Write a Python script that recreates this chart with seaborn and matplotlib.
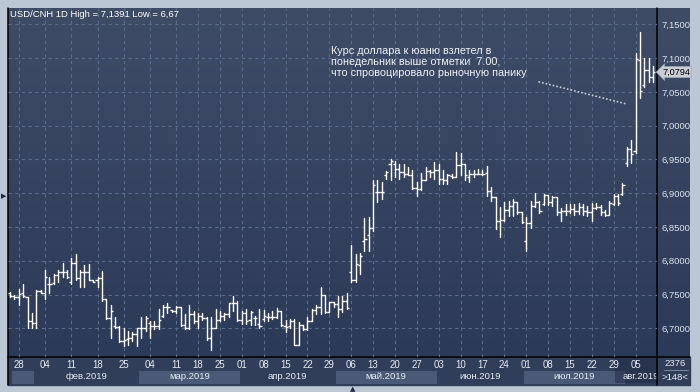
import numpy as np
import pandas as pd
import matplotlib
matplotlib.use("Agg")
import matplotlib.pyplot as plt
import seaborn as sns
from matplotlib.colors import LinearSegmentedColormap
from matplotlib.lines import Line2D
from matplotlib.patches import Rectangle

# USD/CNH daily bars (open / high / low / close)
opens = [6.7525, 6.748, 6.746, 6.753, 6.747, 6.711, 6.708, 6.755, 6.753, 6.766,
         6.767, 6.779, 6.784, 6.784, 6.768, 6.797, 6.774, 6.784, 6.784, 6.771,
         6.772, 6.774, 6.744, 6.715, 6.704, 6.702, 6.681, 6.684, 6.686, 6.691,
         6.700, 6.701, 6.708, 6.704, 6.704, 6.718, 6.731, 6.727, 6.725, 6.731,
         6.705, 6.700, 6.721, 6.711, 6.718, 6.715, 6.685, 6.701, 6.712, 6.718,
         6.721, 6.737, 6.738, 6.713, 6.723, 6.712, 6.715, 6.706, 6.7135, 6.716,
         6.716, 6.717, 6.726, 6.7035, 6.7035, 6.711, 6.676, 6.7045, 6.6985, 6.711,
         6.727, 6.732, 6.7495, 6.7235, 6.7385, 6.736, 6.7285, 6.741, 6.7835, 6.771,
         6.7935, 6.830, 6.838, 6.849, 6.9015, 6.9015, 6.9265, 6.944, 6.943, 6.9365,
         6.9315, 6.929, 6.9265, 6.908, 6.9065, 6.920, 6.933, 6.9315, 6.935, 6.9215,
         6.919, 6.925, 6.924, 6.9415, 6.943, 6.924, 6.929, 6.929, 6.929, 6.930,
         6.904, 6.894, 6.859, 6.860, 6.875, 6.8815, 6.8865, 6.8715, 6.829, 6.8565,
         6.8815, 6.8865, 6.884, 6.8975, 6.8875, 6.894, 6.8725, 6.873, 6.8735, 6.8765,
         6.874, 6.879, 6.8735, 6.872, 6.8775, 6.879, 6.872, 6.8685, 6.884, 6.896,
         6.8985, 6.945, 6.965, 6.963, 7.097, 7.060, 7.082, 7.072]
highs = [6.7535, 6.749, 6.758, 6.766, 6.747, 6.723, 6.756, 6.757, 6.786, 6.776,
         6.781, 6.786, 6.796, 6.786, 6.804, 6.810, 6.786, 6.794, 6.795, 6.771,
         6.776, 6.785, 6.744, 6.734, 6.716, 6.704, 6.700, 6.696, 6.694, 6.701,
         6.716, 6.718, 6.711, 6.711, 6.728, 6.735, 6.737, 6.727, 6.733, 6.732,
         6.721, 6.735, 6.726, 6.723, 6.722, 6.716, 6.716, 6.728, 6.726, 6.722,
         6.738, 6.748, 6.741, 6.726, 6.728, 6.726, 6.7185, 6.7285, 6.727, 6.722,
         6.726, 6.730, 6.726, 6.712, 6.7135, 6.7135, 6.710, 6.705, 6.717, 6.7285,
         6.735, 6.761, 6.7495, 6.7395, 6.7385, 6.7485, 6.7485, 6.752, 6.8235, 6.810,
         6.812, 6.864, 6.865, 6.920, 6.919, 6.9165, 6.933, 6.950, 6.948, 6.944,
         6.943, 6.939, 6.935, 6.9165, 6.930, 6.939, 6.935, 6.9465, 6.943, 6.934,
         6.929, 6.929, 6.9615, 6.959, 6.944, 6.935, 6.935, 6.9365, 6.935, 6.940,
         6.909, 6.894, 6.880, 6.8865, 6.889, 6.8915, 6.8875, 6.8715, 6.865, 6.889,
         6.900, 6.8885, 6.8985, 6.898, 6.896, 6.895, 6.8785, 6.8845, 6.8845, 6.8845,
         6.886, 6.8835, 6.881, 6.886, 6.886, 6.8825, 6.8745, 6.8885, 6.8985, 6.8985,
         6.9145, 6.969, 6.9785, 7.107, 7.1391, 7.101, 7.100, 7.089]
lows = [6.746, 6.744, 6.735, 6.747, 6.700, 6.700, 6.701, 6.752, 6.744, 6.752,
        6.765, 6.769, 6.776, 6.774, 6.766, 6.772, 6.761, 6.761, 6.771, 6.768,
        6.761, 6.741, 6.714, 6.686, 6.700, 6.679, 6.674, 6.676, 6.681, 6.674,
        6.686, 6.696, 6.686, 6.699, 6.699, 6.716, 6.723, 6.724, 6.723, 6.703,
        6.699, 6.699, 6.708, 6.701, 6.712, 6.683, 6.668, 6.701, 6.711, 6.712,
        6.716, 6.726, 6.711, 6.706, 6.706, 6.705, 6.705, 6.701, 6.711, 6.711,
        6.7135, 6.715, 6.7035, 6.695, 6.701, 6.675, 6.675, 6.697, 6.697, 6.711,
        6.721, 6.721, 6.722, 6.7235, 6.731, 6.716, 6.7235, 6.7285, 6.7685, 6.768,
        6.781, 6.814, 6.815, 6.844, 6.8865, 6.8915, 6.9215, 6.920, 6.924, 6.9215,
        6.924, 6.9265, 6.9065, 6.8965, 6.905, 6.919, 6.924, 6.9215, 6.914, 6.914,
        6.914, 6.923, 6.924, 6.9265, 6.920, 6.9165, 6.924, 6.928, 6.9265, 6.8965,
        6.889, 6.8465, 6.835, 6.859, 6.8665, 6.8665, 6.869, 6.8565, 6.814, 6.849,
        6.880, 6.871, 6.8825, 6.8825, 6.881, 6.8685, 6.8585, 6.8685, 6.871, 6.8685,
        6.8695, 6.8675, 6.866, 6.8585, 6.876, 6.8685, 6.866, 6.8685, 6.8825, 6.8825,
        6.8975, 6.941, 6.9445, 6.960, 7.041, 7.058, 7.064, 7.064]
closes = [6.748, 6.746, 6.751, 6.748, 6.711, 6.708, 6.755, 6.753, 6.776, 6.765,
          6.779, 6.784, 6.784, 6.776, 6.797, 6.774, 6.784, 6.784, 6.771, 6.769,
          6.774, 6.744, 6.715, 6.726, 6.702, 6.681, 6.682, 6.686, 6.691, 6.700,
          6.701, 6.715, 6.704, 6.704, 6.713, 6.732, 6.731, 6.725, 6.731, 6.705,
          6.700, 6.721, 6.711, 6.718, 6.715, 6.685, 6.701, 6.712, 6.718, 6.721,
          6.737, 6.738, 6.713, 6.723, 6.711, 6.7235, 6.715, 6.7035, 6.7185, 6.716,
          6.717, 6.726, 6.705, 6.702, 6.711, 6.676, 6.7045, 6.6985, 6.711, 6.727,
          6.732, 6.7495, 6.7235, 6.7385, 6.736, 6.7285, 6.741, 6.730, 6.771, 6.795,
          6.807, 6.8315, 6.849, 6.9115, 6.9025, 6.9015, 6.9315, 6.948, 6.9365, 6.9315,
          6.929, 6.9265, 6.908, 6.9065, 6.920, 6.933, 6.9315, 6.935, 6.9215, 6.919,
          6.9265, 6.924, 6.9415, 6.943, 6.9265, 6.929, 6.928, 6.929, 6.929, 6.904,
          6.894, 6.859, 6.860, 6.875, 6.8815, 6.8865, 6.8715, 6.858, 6.8565, 6.8815,
          6.8865, 6.873, 6.8975, 6.8875, 6.894, 6.8725, 6.873, 6.8735, 6.8765, 6.874,
          6.879, 6.8735, 6.872, 6.8775, 6.879, 6.872, 6.8685, 6.886, 6.896, 6.8855,
          6.912, 6.965, 6.9585, 7.099, 7.052, 7.082, 7.072, 7.0794]

day_ticks = [2, 8, 14, 20, 26, 32, 38, 43, 48, 53, 58, 63, 68, 73, 78, 83, 88,
             93, 98, 103, 108, 113, 118, 123, 128, 133, 138, 143]
day_labels = ["28", "04", "11", "18", "25", "04", "11", "18", "25", "01", "08",
              "15", "22", "29", "06", "13", "20", "27", "03", "10", "17", "24",
              "01", "08", "15", "22", "29", "05"]
month_edges = [0.4, 5.5, 29.5, 52.5, 74.5, 97.5, 117.5, 140.5, 147.9]
month_labels = ["", "фев.2019", "мар.2019", "апр.2019", "май.2019",
                "июн.2019", "июл.2019", "авг.2019"]
price_ticks = [6.70, 6.75, 6.80, 6.85, 6.90, 6.95, 7.00, 7.05, 7.10, 7.15]

title = "USD/CNH 1D High = 7,1391 Low = 6,67"
note = ("Курс доллара к юаню взлетел в\n"
        "понедельник выше отметки  7.00,\n"
        "что спровоцировало рыночную панику")

sns.set_theme(style="dark")
plt.rcParams["font.family"] = ["Liberation Sans", "DejaVu Sans"]

W, H = 700, 392
fig = plt.figure(figsize=(W / 100, H / 100), dpi=100)
fig.patch.set_facecolor("#bcc7d5")


def box(x0, y0, x1, y1):
    # pixel box (top-left origin) -> figure fraction rect
    return [x0 / W, 1 - y1 / H, (x1 - x0) / W, (y1 - y0) / H]


# gradient panel behind plot and price scale
bg = fig.add_axes(box(8, 8, 690, 357))
grad = LinearSegmentedColormap.from_list("panel", ["#3f4c66", "#2c3a59"])
bg.imshow(np.linspace(0, 1, 256).reshape(-1, 1), cmap=grad, aspect="auto",
          extent=[0, 1, 0, 1])
bg.axis("off")

# date strip background
fig.patches.append(Rectangle((8 / W, 1 - 385 / H), 682 / W, 28 / H,
                             transform=fig.transFigure, color="#313e5a", zorder=0))

ax = fig.add_axes(box(8, 8, 657, 357))
ax.set_zorder(2)
ax.set_facecolor("none")

idx = np.arange(len(closes))
hl = pd.DataFrame({"bar": np.repeat(idx, 2),
                   "price": np.column_stack([highs, lows]).ravel()})
sns.lineplot(data=hl, x="bar", y="price", units="bar", estimator=None,
             sort=False, color="white", linewidth=1.0, ax=ax, legend=False)
ax.hlines(opens, idx - 0.5, idx, color="white", linewidth=1.0)
ax.hlines(closes, idx, idx + 0.5, color="white", linewidth=1.0)

ax.set_xlim(-0.46, 147.9)
ax.set_ylim(6.6575, 7.1743)
ax.set_xticks(day_ticks)
ax.set_xticklabels([])
ax.set_yticks(price_ticks)
ax.set_yticklabels([f"{v:.4f}".replace(".", ",") for v in price_ticks])
ax.yaxis.tick_right()
ax.tick_params(axis="both", length=0)
ax.tick_params(axis="y", pad=3, labelsize=6.8, labelcolor="#dbe4f0")
ax.set_xlabel("")
ax.set_ylabel("")
ax.grid(True, color="#5a6b8c", linestyle=(0, (3, 3)), linewidth=0.8)
for s in ax.spines.values():
    s.set_visible(False)

ax.text(0.003, 0.995, title, transform=ax.transAxes, ha="left", va="top",
        color="white", fontsize=6.8)
ax.text(73.4, 7.118, note, ha="left", va="top", color="#eef2f7",
        fontsize=7.8, linespacing=1.12)
ax.plot([120.8, 141.0], [7.0651, 7.0321], color="#c9ced8",
        linestyle=(0, (1, 1.2)), linewidth=1.2)

# last price marker
ax.text(1.008, closes[-1], f"{closes[-1]:.4f}".replace(".", ","),
        transform=ax.get_yaxis_transform(), ha="left", va="center",
        fontsize=6.6, color="black", clip_on=False,
        bbox=dict(boxstyle="larrow,pad=0.12", fc="#c9ced6", ec="#9aa3b0", lw=0.5))

# date strip
ax_d = fig.add_axes(box(8, 357, 657, 385))
ax_d.set_zorder(1)
ax_d.set_facecolor("none")
ax_d.set_xlim(ax.get_xlim())
ax_d.set_ylim(0, 28)
ax_d.axis("off")
for i in range(len(month_labels)):
    x0, x1 = month_edges[i], month_edges[i + 1]
    if i % 2 == 0:
        ax_d.add_patch(Rectangle((x0, 1), x1 - x0, 13, color="#4a5976", lw=0))
    ax_d.text((x0 + x1) / 2, 8.5, month_labels[i], ha="center", va="center",
              color="#e6ecf4", fontsize=6.8, clip_on=True)
for t, lab in zip(day_ticks, day_labels):
    ax_d.text(t, 19.5, lab, ha="center", va="center", color="#e6ecf4", fontsize=6.9)
ax_d.add_patch(Rectangle((138.2, 2), 9.7, 26, color="#232d47", alpha=0.55, lw=0))

# frame lines
for x0, y0, x1, y1 in [(7.5, 8, 7.5, 385), (8, 357, 690, 357), (657, 8, 657, 385)]:
    fig.add_artist(Line2D([x0 / W, x1 / W], [1 - y0 / H, 1 - y1 / H],
                          color="black", linewidth=1.1))
fig.add_artist(Line2D([664 / W, 688 / W], [1 - 370 / H, 1 - 370 / H],
                      color="#8894a8", linewidth=0.6))
fig.text(675 / W, 1 - 364 / H, "2376", ha="center", va="center",
         color="#e6ecf4", fontsize=6.8)
fig.text(675 / W, 1 - 377 / H, ">148<", ha="center", va="center",
         color="#e6ecf4", fontsize=6.8)
fig.text(3.5 / W, 1 - 196 / H, "▶", ha="center", va="center",
         color="#1e2a44", fontsize=5, family="DejaVu Sans")
fig.text(353 / W, 1 - 389 / H, "▲", ha="center", va="center",
         color="#1e2a44", fontsize=5, family="DejaVu Sans")

fig.savefig("out.png", dpi=100, facecolor=fig.get_facecolor())
